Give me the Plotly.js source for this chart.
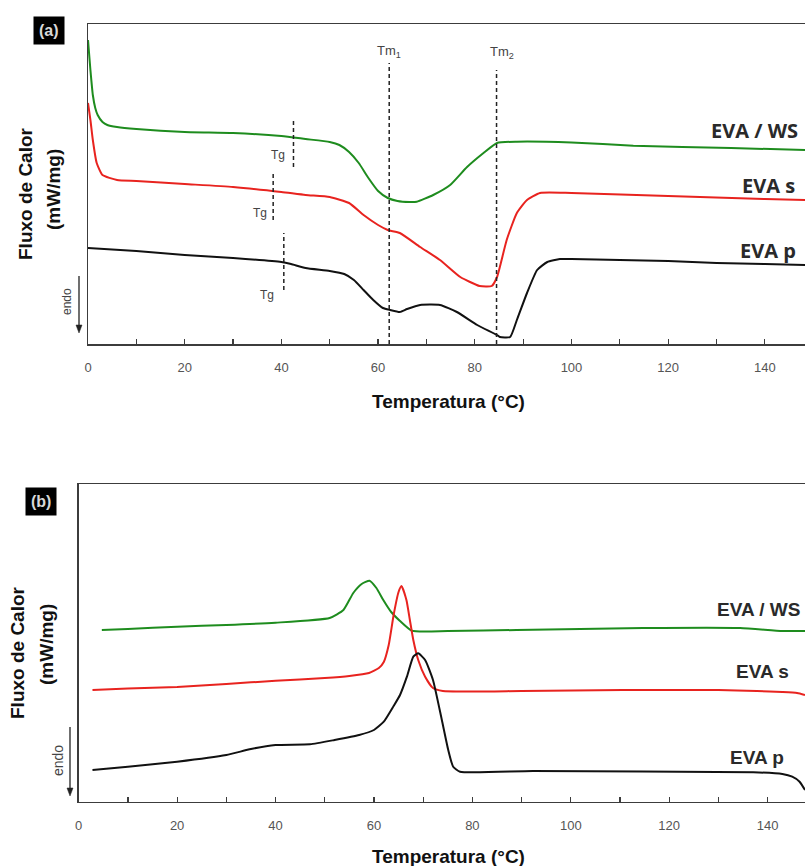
<!DOCTYPE html>
<html><head><meta charset="utf-8">
<script src="https://cdn.plot.ly/plotly-3.0.1.min.js"></script>
<style>html,body{margin:0;padding:0;background:#fff;}#chart{width:805px;height:866px;}</style>
</head><body><div id="chart"></div>
<script>
// ---------- Panel (a) : heating curves ----------
const aWS_T = [0, 0.5, 1, 1.5, 2, 3, 4, 6, 10, 20, 30, 40, 45, 50, 52, 54, 56, 58, 60, 62, 64, 66.5, 68, 71.4, 74.9, 78.4, 81.8, 84.6, 88.7, 100, 112.8, 133, 148.3];
const aWS_Q = [30.4, 27.4, 24.9, 23.6, 22.9, 22.2, 21.9, 21.7, 21.5, 21.2, 21.1, 20.8, 20.5, 20.2, 19.9, 19.2, 18.1, 16.6, 15.3, 14.6, 14.3, 14.2, 14.23, 14.9, 15.9, 17.7, 19.1, 20.1, 20.23, 20.15, 19.83, 19.6, 19.4];
const aS_T = [0, 0.5, 1, 1.8, 3, 6, 10, 20, 30, 40, 45, 50, 54, 57, 60, 62, 64.5, 68.7, 72.8, 77, 81, 83.5, 84.6, 86.6, 88.7, 90.8, 93.5, 100, 120, 140, 148.3];
const aS_Q = [24.1, 22.4, 20.4, 18.1, 16.9, 16.4, 16.3, 16.0, 15.7, 15.2, 14.9, 14.7, 14.1, 12.9, 11.9, 11.4, 11.1, 9.7, 8.4, 6.7, 5.8, 5.8, 6.7, 10.4, 13.1, 14.4, 15.1, 15.1, 14.8, 14.5, 14.4];
const aP_T = [0, 10, 20, 30, 40, 42, 45, 50, 53, 55, 57, 59, 61, 62.5, 64.5, 66, 68.7, 72.8, 76.3, 80.5, 84.6, 85.2, 87.3, 88.7, 90.8, 92.9, 95, 97.6, 100, 110, 120, 130, 140, 148.3];
const aP_Q = [9.6, 9.3, 8.9, 8.6, 8.2, 8.0, 7.6, 7.3, 7.0, 6.4, 5.4, 4.4, 3.6, 3.4, 3.2, 3.5, 3.9, 3.9, 3.2, 1.9, 0.9, 0.7, 0.7, 2.4, 5.1, 7.4, 8.2, 8.5, 8.5, 8.4, 8.3, 8.1, 8.0, 7.9];

// marker temperatures (a)
const tmTemps = [62.3, 84.5];
const tmLabels = ['Tm<sub>1</sub>', 'Tm<sub>2</sub>'];
const tgTemps = [42.5, 38.3, 40.5];           // EVA/WS, EVA s, EVA p
const tgTop = [22.4, 17.2, 11.1];
const tgBottom = [17.7, 12.4, 5.4];

// ---------- Panel (b) : cooling curves ----------
const bWS_T = [4.7, 10, 20, 30, 40, 51, 53.8, 55.8, 57.5, 59.1, 60.5, 61.9, 63.5, 65.3, 67.7, 75, 89, 114.7, 134.4, 143, 147.6];
const bWS_Q = [17.17, 17.27, 17.5, 17.67, 17.9, 18.37, 19.17, 20.87, 21.77, 22.1, 21.37, 20.17, 18.97, 18.07, 17.1, 17.07, 17.17, 17.37, 17.37, 17.07, 17.07];
const bS_T = [2.8, 10, 20, 30, 40, 50, 55, 59, 61, 62, 63, 64, 65, 65.6, 66.6, 67.3, 68, 69, 70.4, 72, 74, 90, 110.6, 130, 137.8, 143, 146, 147.6];
const bS_Q = [11.17, 11.32, 11.47, 11.77, 12.1, 12.37, 12.57, 12.87, 13.37, 13.97, 15.67, 18.67, 20.97, 21.57, 20.17, 18.17, 16.17, 14.17, 12.5, 11.37, 11.07, 11.07, 11.17, 11.17, 11.07, 10.97, 10.87, 10.67];
const bP_T = [2.8, 10, 20, 30, 35, 40, 47, 52, 57, 60, 62, 64, 65.3, 66.7, 68, 69, 70.4, 72, 73.8, 75.1, 76.1, 77.5, 92.3, 137.1, 143, 145, 146.5, 147.6];
const bP_Q = [3.17, 3.5, 4.0, 4.67, 5.27, 5.67, 5.74, 6.17, 6.67, 7.17, 8.0, 9.57, 10.67, 12.5, 14.5, 14.84, 14.17, 12.17, 8.17, 5.17, 3.5, 3.0, 3.07, 2.94, 2.77, 2.5, 2.0, 1.17];

const seriesNames = ['EVA / WS', 'EVA s', 'EVA p'];
const xTitle = 'Temperatura (°C)';
const yTitle1 = 'Fluxo de Calor';
const yTitle2 = '(mW/mg)';

// ---------- styling ----------
const W = 805, H = 866;
const px = v => v / W, py = v => 1 - v / H;
const cGreen = '#1e8c1e', cRed = '#e8231f', cBlack = '#111111';
const axisCol = '#3c3c3c';
const sans = 'Liberation Sans, Arial, sans-serif';

function tr(x, y, color, xa, ya) {
  return {x: x, y: y, type: 'scatter', mode: 'lines', xaxis: xa, yaxis: ya,
    line: {color: color, width: 2, shape: 'spline', smoothing: 0.5}, hoverinfo: 'skip'};
}
const data = [
  tr(aWS_T, aWS_Q, cGreen, 'x', 'y'), tr(aS_T, aS_Q, cRed, 'x', 'y'), tr(aP_T, aP_Q, cBlack, 'x', 'y'),
  tr(bWS_T, bWS_Q, cGreen, 'x2', 'y2'), tr(bS_T, bS_Q, cRed, 'x2', 'y2'), tr(bP_T, bP_Q, cBlack, 'x2', 'y2')
];

function xax(domain, range, anchor) {
  return {domain: domain, range: range, anchor: anchor, showline: true, mirror: true, linecolor: axisCol, linewidth: 1.5,
    showgrid: false, zeroline: false, ticks: 'inside', ticklen: 5, tickwidth: 1.2, tickcolor: axisCol,
    tick0: 0, dtick: 20, tickfont: {family: sans, size: 13, color: '#555'}, ticklabelstandoff: 11,
    minor: {dtick: 10, ticks: 'inside', ticklen: 5, tickwidth: 1.2, tickcolor: axisCol, showgrid: false}};
}
function yax(domain, range, anchor) {
  return {domain: domain, range: range, anchor: anchor, showline: true, linecolor: axisCol, linewidth: 1.5,
    showgrid: false, zeroline: false, ticks: '', showticklabels: false};
}

const shapes = [];
const dash = '4px,3px';
tmTemps.forEach((t, i) => shapes.push({type: 'line', xref: 'x', yref: 'y', x0: t, x1: t, y0: 0, y1: i === 0 ? 28.1 : 27.4,
  line: {color: '#222', width: 1.5, dash: dash}}));
tgTemps.forEach((t, i) => shapes.push({type: 'line', xref: 'x', yref: 'y', x0: t, x1: t, y0: tgBottom[i], y1: tgTop[i],
  line: {color: '#222', width: 1.5, dash: dash}}));
// "endo" arrows (line + head), paper coords
function arrow(x, yTop, yTip) {
  shapes.push({type: 'line', xref: 'paper', yref: 'paper', x0: px(x), x1: px(x), y0: py(yTop), y1: py(yTip - 6),
    line: {color: '#222', width: 1.3}});
  shapes.push({type: 'path', xref: 'paper', yref: 'paper',
    path: 'M' + px(x - 3) + ',' + py(yTip - 8) + ' L' + px(x + 3) + ',' + py(yTip - 8) + ' L' + px(x) + ',' + py(yTip) + ' Z',
    fillcolor: '#222', line: {color: '#222', width: 0.5}});
}
arrow(79, 276, 333);
arrow(70, 727, 796);

const ann = [];
function txt(text, x, y, size, opts) {
  ann.push(Object.assign({text: text, xref: 'paper', yref: 'paper', x: px(x), y: py(y), showarrow: false,
    xanchor: 'center', yanchor: 'middle',
    font: {family: sans, size: size, color: '#111'}}, opts || {}));
}
// panel tags
txt('<b>(a)</b>', 49, 30.5, 16, {bgcolor: '#000', font: {family: sans, size: 16, color: '#d8d8d8'}, borderpad: 5});
txt('<b>(b)</b>', 41, 501, 16, {bgcolor: '#000', font: {family: sans, size: 16, color: '#d8d8d8'}, borderpad: 5});
// Tm labels
txt(tmLabels[0], 389, 51, 13, {font: {family: sans, size: 13, color: '#444'}});
txt(tmLabels[1], 502, 53, 13, {font: {family: sans, size: 13, color: '#444'}});
// Tg labels
[[278, 155], [260, 213], [267, 295]].forEach(p => txt('Tg', p[0], p[1], 12, {font: {family: sans, size: 12, color: '#444'}}));
// series labels (a)
const oS = 'Open Sans, sans-serif';
txt('<b>' + seriesNames[0] + '</b>', 800, 130, 20, {xanchor: 'right', font: {family: oS, size: 20, color: '#2a2a2a'}});
txt('<b>' + seriesNames[1] + '</b>', 797, 186, 20, {xanchor: 'right', font: {family: oS, size: 20, color: '#2a2a2a'}});
txt('<b>' + seriesNames[2] + '</b>', 798, 251, 20, {xanchor: 'right', font: {family: oS, size: 20, color: '#2a2a2a'}});
// series labels (b)
txt('<b>' + seriesNames[0] + '</b>', 802, 609, 19, {xanchor: 'right', font: {family: sans, size: 19, color: '#2a2a2a'}});
txt('<b>' + seriesNames[1] + '</b>', 791, 671, 19, {xanchor: 'right', font: {family: sans, size: 19, color: '#2a2a2a'}});
txt('<b>' + seriesNames[2] + '</b>', 786, 757, 19, {xanchor: 'right', font: {family: sans, size: 19, color: '#2a2a2a'}});
// axis titles
txt('<b>' + xTitle + '</b>', 448, 401, 19);
txt('<b>' + xTitle + '</b>', 448, 856, 19);
txt('<b>' + yTitle1 + '</b>', 25, 194, 19, {textangle: -90});
txt('<b>' + yTitle2 + '</b>', 53, 190, 19, {textangle: -90});
txt('<b>' + yTitle1 + '</b>', 17, 653, 19, {textangle: -90});
txt('<b>' + yTitle2 + '</b>', 46, 645, 19, {textangle: -90});
// endo labels
txt('endo', 67, 302, 12, {textangle: -90, font: {family: sans, size: 12, color: '#444'}});
txt('endo', 58, 760, 14, {textangle: -90, font: {family: sans, size: 14, color: '#444'}});

const layout = {
  width: W, height: H, margin: {l: 0, r: 0, t: 0, b: 0}, showlegend: false,
  paper_bgcolor: '#fff', plot_bgcolor: '#fff',
  xaxis: xax([88 / W, 1], [0, 148.3], 'y'),
  yaxis: yax([1 - 344 / H, 1 - 24 / H], [0, 32], 'x'),
  xaxis2: xax([78.7 / W, 1], [0, 147.6], 'y2'),
  yaxis2: yax([1 - 801.7 / H, 1 - 484 / H], [0, 31.77], 'x2'),
  shapes: shapes, annotations: ann
};
Plotly.newPlot('chart', data, layout, {staticPlot: true, displayModeBar: false});
</script></body></html>
